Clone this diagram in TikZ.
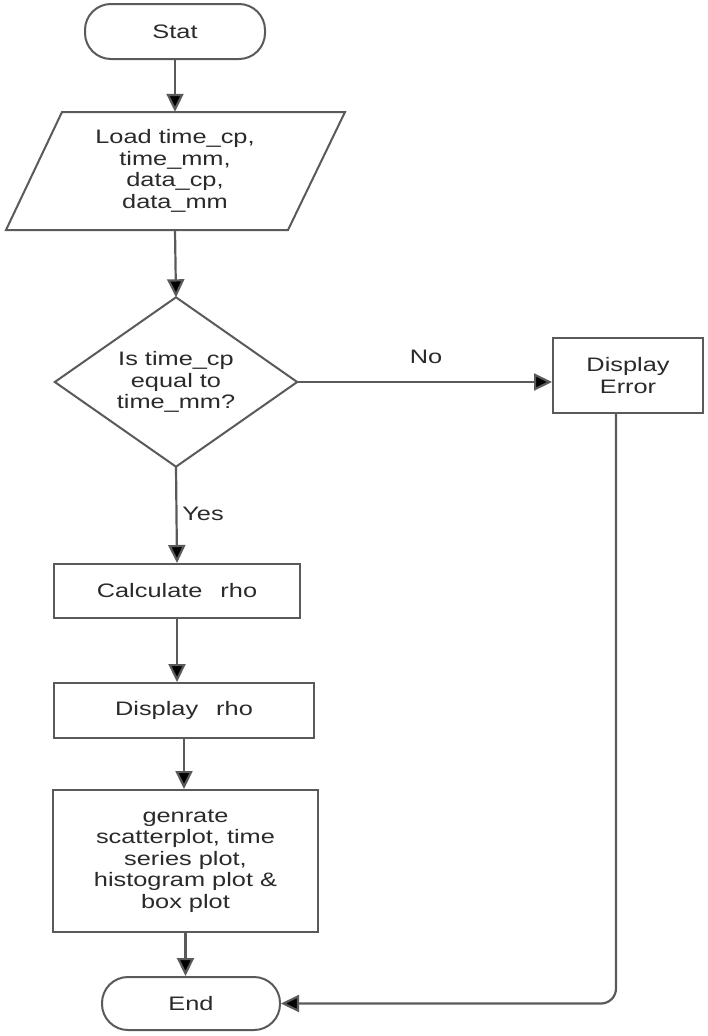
\documentclass[tikz,border=0pt]{standalone}
\usepackage{fontspec}
\setmainfont{Liberation Sans}[FakeStretch=1.3]
\usetikzlibrary{arrows.meta}
\definecolor{linegray}{HTML}{5A5A5A}
\definecolor{textgray}{HTML}{2A2A2A}
\tikzset{
  base/.style={font=\fontsize{19.5}{21.5}\selectfont, text=textgray, align=center, inner sep=0pt},
  term/.style={base, draw=linegray, line width=2pt, rounded corners=26pt},
  procbox/.style={base, draw=linegray, line width=2pt},
  conn/.style={draw=linegray, line width=2.2pt, -{Triangle[length=18pt,width=17pt,fill=black]}},
  lbl/.style={base}
}
\begin{document}
\begin{tikzpicture}[x=1pt,y=-1pt]
\useasboundingbox (0,0) rectangle (707,1036);
\fill[white] (0,0) rectangle (707,1036);
% nodes
\node[term, minimum width=180pt, minimum height=55pt] (stat) at (175,31.5) {Stat};
\node[base, minimum width=226pt, minimum height=118pt] (load) at (175,171) {Load time\_cp,\\time\_mm,\\data\_cp,\\data\_mm};
\draw[linegray, line width=2pt, line join=miter] (62,112) -- (345,112) -- (288,230) -- (6,230) -- cycle;
\node[base, minimum width=242pt, minimum height=169pt] (dec) at (176,382) {Is time\_cp\\equal to\\time\_mm?};
\draw[linegray, line width=2pt] (dec.north) -- (dec.east) -- (dec.south) -- (dec.west) -- cycle;
\node[procbox, minimum width=150pt, minimum height=75pt] (err) at (628,375.5) {Display\\Error};
\node[procbox, minimum width=246pt, minimum height=54pt] (calc) at (177,591) {Calculate\hspace{18pt}rho};
\node[procbox, minimum width=260pt, minimum height=55pt] (disp) at (184,710.5) {Display\hspace{18pt}rho};
\node[procbox, minimum width=265pt, minimum height=142pt] (gen) at (185.5,861) {genrate\\scatterplot, time\\series plot,\\histogram plot \&\\box plot};
\node[term, minimum width=178pt, minimum height=53pt] (end) at (191,1003.5) {End};
\coordinate (errout) at (616,413);
% connectors
\draw[conn] (stat.south) -- (load.north);
\draw[conn] (load.south) -- (dec.north);
\draw[conn] (dec.east) -- (dec.east -| err.west);
\node[lbl] (no) at (426,357) {No};
\draw[conn] (dec.south) -- (calc.north);
\node[lbl] (yes) at (203,514) {Yes};
\draw[conn] (calc.south) -- (calc.south |- disp.north);
\draw[conn] (disp.south) -- (disp.south |- gen.north);
\draw[conn] (gen.south) -- (gen.south |- end.north);
\draw[conn, rounded corners=15pt] (errout) |- (end.east);
\end{tikzpicture}
\end{document}
